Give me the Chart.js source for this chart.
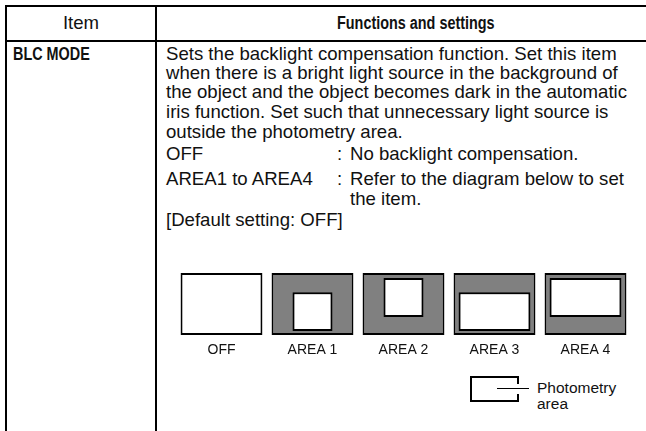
<!DOCTYPE html>
<html>
<head>
<meta charset="utf-8">
<script src="https://cdn.jsdelivr.net/npm/chart.js@4"></script>
<style>
  html, body { margin:0; padding:0; background:#fff; }
  body { width:646px; height:431px; position:relative; overflow:hidden;
         font-family:"Liberation Sans", Arial, Helvetica, sans-serif; color:#111; }
  .ln { position:absolute; background:#000; }
  .t { position:absolute; white-space:nowrap; font-size:18.6px; line-height:20px; }
  .b { font-weight:bold; font-size:18px; transform-origin:0 0; }
  #wrap { position:absolute; left:176px; top:273px; width:455px; height:100px; }
</style>
</head>
<body>
<!-- table rules -->
<div class="ln" style="left:5px;top:5px;width:641px;height:2px"></div>
<div class="ln" style="left:5px;top:40px;width:641px;height:2px"></div>
<div class="ln" style="left:5px;top:5px;width:2px;height:426px"></div>
<div class="ln" style="left:155px;top:5px;width:2px;height:426px"></div>

<div class="t" style="left:7px;width:148px;top:12.5px;text-align:center">Item</div>
<div class="t b" style="left:337px;top:12.5px;transform:scaleX(0.8)">Functions and settings</div>

<div class="t b" style="left:13px;top:43.5px;transform:scaleX(0.8)">BLC MODE</div>

<div class="t" style="left:166px;top:43.5px">Sets the backlight compensation function. Set this item</div>
<div class="t" style="left:166px;top:62.5px">when there is a bright light source in the background of</div>
<div class="t" style="left:166px;top:82px">the object and the object becomes dark in the automatic</div>
<div class="t" style="left:166px;top:101.5px">iris function. Set such that unnecessary light source is</div>
<div class="t" style="left:166px;top:121.5px">outside the photometry area.</div>
<div class="t" style="left:166px;top:143.5px">OFF</div>
<div class="t" style="left:337px;top:143.5px">:</div>
<div class="t" style="left:350px;top:143.5px">No backlight compensation.</div>
<div class="t" style="left:166px;top:169px">AREA1 to AREA4</div>
<div class="t" style="left:337px;top:169px">:</div>
<div class="t" style="left:350px;top:169px">Refer to the diagram below to set</div>
<div class="t" style="left:350px;top:188.5px">the item.</div>
<div class="t" style="left:166px;top:209.5px">[Default setting: OFF]</div>

<div id="wrap"><canvas id="c" width="455" height="100"></canvas></div>

<!-- photometry key -->
<div class="ln" style="left:470px;top:376px;width:49px;height:2px"></div>
<div class="ln" style="left:470px;top:400px;width:49px;height:2px"></div>
<div class="ln" style="left:470px;top:376px;width:2px;height:26px"></div>
<div class="ln" style="left:517px;top:376px;width:2px;height:8px"></div>
<div class="ln" style="left:517px;top:394px;width:2px;height:8px"></div>
<div class="ln" style="left:497px;top:388px;width:32px;height:1px"></div>
<div class="t" style="left:537px;top:379.5px;font-size:15.5px;line-height:16px">Photometry<br>area</div>

<script>
// Diagram data: each frame spans 0..100 vertically; photometry areas as [bottom, top]
const categories = ['OFF', 'AREA 1', 'AREA 2', 'AREA 3', 'AREA 4'];
const frameRange = [[0, 100], [0, 100], [0, 100], [0, 100], [0, 100]];
const photometrySmall = [null, [6.5, 69], [29, 92], null, null];
const photometryWide = [null, null, null, [6.5, 69], [29, 92]];

new Chart(document.getElementById('c'), {
  type: 'bar',
  data: {
    labels: categories,
    datasets: [
      { label: 'Frame', data: frameRange, order: 3,
        backgroundColor: ['#ffffff', '#808080', '#808080', '#808080', '#808080'],
        borderColor: '#000', borderWidth: 2, borderSkipped: false,
        barPercentage: 0.9, categoryPercentage: 1 },
      { label: 'Photometry area', data: photometrySmall, order: 1,
        backgroundColor: '#ffffff', borderColor: '#000', borderWidth: 2, borderSkipped: false,
        barPercentage: 0.44, categoryPercentage: 1 },
      { label: 'Photometry area wide', data: photometryWide, order: 1,
        backgroundColor: '#ffffff', borderColor: '#000', borderWidth: 2, borderSkipped: false,
        barPercentage: 0.79, categoryPercentage: 1 }
    ]
  },
  options: {
    responsive: false, animation: false, devicePixelRatio: 1,
    layout: { padding: 0 },
    datasets: { bar: { grouped: false } },
    plugins: { legend: { display: false }, tooltip: { enabled: false } },
    scales: {
      x: { grid: { display: false, drawTicks: false }, border: { display: false },
           ticks: { color: '#111', padding: 7, font: { family: 'Liberation Sans', size: 14 } },
           afterFit: (a) => { a.height = 38; } },
      y: { display: false, min: 0, max: 100 }
    }
  }
});
</script>
</body>
</html>
